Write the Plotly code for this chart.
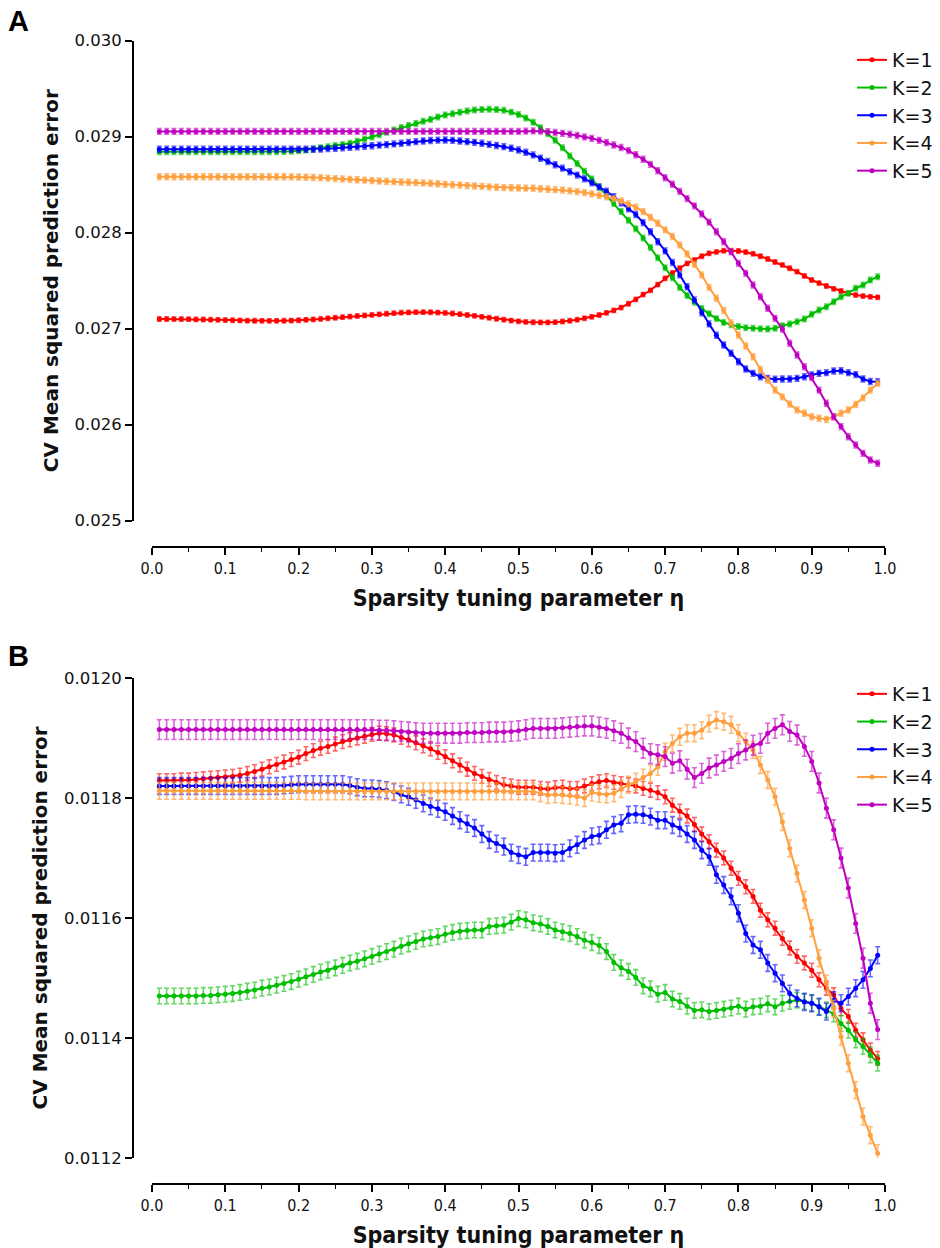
import plotly.graph_objects as go

# ---------------- data ----------------
ETA = [0.01, 0.02, 0.03, 0.04, 0.05, 0.06, 0.07, 0.08, 0.09, 0.10,
       0.11, 0.12, 0.13, 0.14, 0.15, 0.16, 0.17, 0.18, 0.19, 0.20,
       0.21, 0.22, 0.23, 0.24, 0.25, 0.26, 0.27, 0.28, 0.29, 0.30,
       0.31, 0.32, 0.33, 0.34, 0.35, 0.36, 0.37, 0.38, 0.39, 0.40,
       0.41, 0.42, 0.43, 0.44, 0.45, 0.46, 0.47, 0.48, 0.49, 0.50,
       0.51, 0.52, 0.53, 0.54, 0.55, 0.56, 0.57, 0.58, 0.59, 0.60,
       0.61, 0.62, 0.63, 0.64, 0.65, 0.66, 0.67, 0.68, 0.69, 0.70,
       0.71, 0.72, 0.73, 0.74, 0.75, 0.76, 0.77, 0.78, 0.79, 0.80,
       0.81, 0.82, 0.83, 0.84, 0.85, 0.86, 0.87, 0.88, 0.89, 0.90,
       0.91, 0.92, 0.93, 0.94, 0.95, 0.96, 0.97, 0.98, 0.99]

SERIES_NAMES = ["K=1", "K=2", "K=3", "K=4", "K=5"]

# Panel A
A_K1 = [0.027101, 0.027101, 0.027100, 0.027100, 0.027099, 0.027097, 0.027096, 0.027094, 0.027092, 0.027090,
        0.027088, 0.027086, 0.027084, 0.027083, 0.027082, 0.027082, 0.027082, 0.027083, 0.027085, 0.027088,
        0.027092, 0.027097, 0.027102, 0.027108, 0.027114, 0.027120, 0.027126, 0.027132, 0.027138, 0.027144,
        0.027150, 0.027156, 0.027162, 0.027167, 0.027170, 0.027172, 0.027172, 0.027171, 0.027168, 0.027164,
        0.027158, 0.027151, 0.027143, 0.027134, 0.027124, 0.027114, 0.027104, 0.027094, 0.027085, 0.027077,
        0.027071, 0.027067, 0.027065, 0.027065, 0.027068, 0.027075, 0.027083, 0.027094, 0.027108, 0.027124,
        0.027143, 0.027165, 0.027190, 0.027220, 0.027260, 0.027305, 0.027355, 0.027400, 0.027460, 0.027525,
        0.027580, 0.027630, 0.027680, 0.027716, 0.027755, 0.027785, 0.027800, 0.027812, 0.027812, 0.027809,
        0.027798, 0.027780, 0.027755, 0.027726, 0.027695, 0.027664, 0.027630, 0.027594, 0.027550, 0.027507,
        0.027475, 0.027445, 0.027415, 0.027393, 0.027370, 0.027350, 0.027340, 0.027332, 0.027327]
A_K2 = [0.028844, 0.028844, 0.028844, 0.028844, 0.028844, 0.028844, 0.028844, 0.028844, 0.028844, 0.028844,
        0.028844, 0.028844, 0.028844, 0.028844, 0.028844, 0.028844, 0.028844, 0.028845, 0.028848, 0.028853,
        0.028862, 0.028872, 0.028884, 0.028896, 0.028908, 0.028920, 0.028932, 0.028952, 0.028975, 0.028998,
        0.029020, 0.029045, 0.029070, 0.029095, 0.029118, 0.029138, 0.029160, 0.029180, 0.029205, 0.029226,
        0.029240, 0.029254, 0.029267, 0.029277, 0.029283, 0.029285, 0.029284, 0.029275, 0.029256, 0.029232,
        0.029195, 0.029150, 0.029093, 0.029030, 0.028962, 0.028885, 0.028800, 0.028720, 0.028640, 0.028560,
        0.028475, 0.028390, 0.028305, 0.028220, 0.028130, 0.028040, 0.027945, 0.027845, 0.027740, 0.027635,
        0.027530, 0.027430, 0.027345, 0.027275, 0.027210, 0.027155, 0.027105, 0.027065, 0.027040, 0.027022,
        0.027010, 0.027004, 0.027000, 0.026997, 0.027005, 0.027030, 0.027050, 0.027073, 0.027100, 0.027150,
        0.027195, 0.027229, 0.027281, 0.027333, 0.027368, 0.027421, 0.027455, 0.027507, 0.027542]
A_K3 = [0.028869, 0.028869, 0.028869, 0.028869, 0.028869, 0.028869, 0.028869, 0.028869, 0.028869, 0.028869,
        0.028869, 0.028869, 0.028869, 0.028869, 0.028869, 0.028869, 0.028869, 0.028869, 0.028869, 0.028869,
        0.028869, 0.028869, 0.028872, 0.028876, 0.028880, 0.028885, 0.028890, 0.028895, 0.028900, 0.028906,
        0.028912, 0.028918, 0.028925, 0.028932, 0.028940, 0.028948, 0.028955, 0.028960, 0.028964, 0.028966,
        0.028962, 0.028955, 0.028948, 0.028941, 0.028932, 0.028920, 0.028908, 0.028896, 0.028880, 0.028862,
        0.028838, 0.028810, 0.028776, 0.028742, 0.028708, 0.028672, 0.028635, 0.028600, 0.028562, 0.028520,
        0.028478, 0.028432, 0.028375, 0.028310, 0.028250, 0.028190, 0.028105, 0.028010, 0.027906, 0.027810,
        0.027690, 0.027560, 0.027437, 0.027300, 0.027165, 0.027050, 0.026932, 0.026830, 0.026744, 0.026656,
        0.026580, 0.026535, 0.026500, 0.026483, 0.026473, 0.026476, 0.026476, 0.026483, 0.026500, 0.026518,
        0.026535, 0.026542, 0.026559, 0.026562, 0.026542, 0.026522, 0.026476, 0.026450, 0.026448]
A_K4 = [0.028583, 0.028583, 0.028583, 0.028583, 0.028583, 0.028583, 0.028583, 0.028583, 0.028583, 0.028583,
        0.028583, 0.028583, 0.028583, 0.028583, 0.028583, 0.028583, 0.028583, 0.028583, 0.028582, 0.028580,
        0.028578, 0.028575, 0.028572, 0.028568, 0.028564, 0.028560, 0.028556, 0.028551, 0.028547, 0.028543,
        0.028539, 0.028535, 0.028532, 0.028528, 0.028525, 0.028522, 0.028519, 0.028515, 0.028510, 0.028504,
        0.028500, 0.028496, 0.028491, 0.028486, 0.028482, 0.028478, 0.028474, 0.028470, 0.028468, 0.028466,
        0.028464, 0.028463, 0.028458, 0.028453, 0.028448, 0.028444, 0.028436, 0.028428, 0.028418, 0.028405,
        0.028390, 0.028375, 0.028355, 0.028330, 0.028300, 0.028265, 0.028220, 0.028160, 0.028098, 0.028030,
        0.027960, 0.027873, 0.027780, 0.027670, 0.027560, 0.027430, 0.027317, 0.027190, 0.027060, 0.026934,
        0.026820, 0.026708, 0.026575, 0.026466, 0.026361, 0.026290, 0.026215, 0.026153, 0.026119, 0.026083,
        0.026067, 0.026056, 0.026083, 0.026119, 0.026153, 0.026210, 0.026280, 0.026360, 0.026431]
A_K5 = [0.029055, 0.029055, 0.029055, 0.029055, 0.029055, 0.029055, 0.029055, 0.029055, 0.029055, 0.029055,
        0.029055, 0.029055, 0.029055, 0.029055, 0.029055, 0.029055, 0.029055, 0.029055, 0.029055, 0.029055,
        0.029055, 0.029055, 0.029055, 0.029055, 0.029055, 0.029055, 0.029055, 0.029055, 0.029055, 0.029055,
        0.029055, 0.029055, 0.029055, 0.029055, 0.029055, 0.029055, 0.029055, 0.029055, 0.029055, 0.029055,
        0.029055, 0.029055, 0.029055, 0.029055, 0.029055, 0.029055, 0.029055, 0.029055, 0.029055, 0.029055,
        0.029058, 0.029060, 0.029058, 0.029052, 0.029044, 0.029035, 0.029025, 0.029012, 0.028998, 0.028983,
        0.028962, 0.028940, 0.028914, 0.028888, 0.028855, 0.028812, 0.028765, 0.028712, 0.028645, 0.028572,
        0.028505, 0.028430, 0.028355, 0.028280, 0.028195, 0.028110, 0.028010, 0.027906, 0.027800, 0.027681,
        0.027577, 0.027455, 0.027333, 0.027213, 0.027108, 0.026995, 0.026848, 0.026726, 0.026604, 0.026490,
        0.026360, 0.026223, 0.026083, 0.025980, 0.025875, 0.025788, 0.025702, 0.025632, 0.025598]
A_ERR = [0.000022, 0.000028, 0.000030, 0.000030, 0.000030]

# Panel B
B_K1 = [0.011829, 0.011829, 0.011829, 0.011830, 0.011830, 0.011831, 0.011832, 0.011833, 0.011834, 0.011835,
        0.011836, 0.011838, 0.011841, 0.011844, 0.011848, 0.011852, 0.011856, 0.011860, 0.011864, 0.011868,
        0.011874, 0.011879, 0.011883, 0.011886, 0.011890, 0.011894, 0.011897, 0.011900, 0.011903, 0.011906,
        0.011908, 0.011907, 0.011905, 0.011901, 0.011897, 0.011892, 0.011887, 0.011882, 0.011876, 0.011869,
        0.011862, 0.011855, 0.011848, 0.011841, 0.011836, 0.011831, 0.011826, 0.011822, 0.011820, 0.011818,
        0.011818, 0.011818, 0.011816, 0.011815, 0.011817, 0.011818, 0.011816, 0.011816, 0.011820, 0.011824,
        0.011827, 0.011829, 0.011826, 0.011824, 0.011822, 0.011820, 0.011816, 0.011813, 0.011809, 0.011802,
        0.011788, 0.011778, 0.011770, 0.011756, 0.011740, 0.011727, 0.011713, 0.011700, 0.011683, 0.011666,
        0.011652, 0.011636, 0.011613, 0.011597, 0.011583, 0.011566, 0.011550, 0.011536, 0.011525, 0.011513,
        0.011497, 0.011483, 0.011472, 0.011449, 0.011436, 0.011413, 0.011397, 0.011380, 0.011366]
B_K2 = [0.011470, 0.011470, 0.011470, 0.011470, 0.011470, 0.011470, 0.011471, 0.011471, 0.011472, 0.011473,
        0.011474, 0.011476, 0.011478, 0.011480, 0.011483, 0.011485, 0.011488, 0.011491, 0.011494, 0.011498,
        0.011502, 0.011506, 0.011510, 0.011513, 0.011517, 0.011521, 0.011525, 0.011528, 0.011532, 0.011536,
        0.011540, 0.011544, 0.011548, 0.011553, 0.011557, 0.011561, 0.011565, 0.011567, 0.011569, 0.011573,
        0.011576, 0.011578, 0.011579, 0.011580, 0.011580, 0.011586, 0.011587, 0.011588, 0.011593, 0.011599,
        0.011597, 0.011592, 0.011590, 0.011586, 0.011580, 0.011577, 0.011574, 0.011569, 0.011563, 0.011559,
        0.011554, 0.011544, 0.011526, 0.011517, 0.011511, 0.011501, 0.011487, 0.011482, 0.011473, 0.011476,
        0.011465, 0.011461, 0.011453, 0.011446, 0.011447, 0.011444, 0.011446, 0.011448, 0.011450, 0.011453,
        0.011448, 0.011452, 0.011453, 0.011457, 0.011452, 0.011458, 0.011461, 0.011463, 0.011461, 0.011458,
        0.011452, 0.011447, 0.011440, 0.011424, 0.011413, 0.011397, 0.011386, 0.011372, 0.011358]
B_K3 = [0.011820, 0.011820, 0.011820, 0.011820, 0.011820, 0.011820, 0.011820, 0.011820, 0.011820, 0.011820,
        0.011820, 0.011820, 0.011820, 0.011820, 0.011820, 0.011820, 0.011820, 0.011821, 0.011822, 0.011823,
        0.011823, 0.011823, 0.011823, 0.011823, 0.011823, 0.011823, 0.011821, 0.011818, 0.011816, 0.011816,
        0.011815, 0.011813, 0.011810, 0.011806, 0.011802, 0.011797, 0.011791, 0.011786, 0.011782, 0.011777,
        0.011770, 0.011763, 0.011757, 0.011750, 0.011740, 0.011730, 0.011724, 0.011719, 0.011709, 0.011705,
        0.011702, 0.011709, 0.011709, 0.011709, 0.011708, 0.011709, 0.011716, 0.011722, 0.011730, 0.011736,
        0.011738, 0.011747, 0.011755, 0.011758, 0.011772, 0.011773, 0.011772, 0.011769, 0.011763, 0.011763,
        0.011755, 0.011750, 0.011740, 0.011730, 0.011713, 0.011702, 0.011672, 0.011655, 0.011636, 0.011608,
        0.011574, 0.011555, 0.011547, 0.011525, 0.011508, 0.011491, 0.011474, 0.011466, 0.011460, 0.011458,
        0.011452, 0.011444, 0.011463, 0.011458, 0.011469, 0.011483, 0.011497, 0.011516, 0.011538]
B_K4 = [0.011812, 0.011812, 0.011812, 0.011812, 0.011812, 0.011812, 0.011812, 0.011812, 0.011812, 0.011812,
        0.011812, 0.011812, 0.011812, 0.011812, 0.011812, 0.011812, 0.011812, 0.011812, 0.011812, 0.011812,
        0.011811, 0.011811, 0.011811, 0.011811, 0.011811, 0.011811, 0.011811, 0.011811, 0.011811, 0.011811,
        0.011811, 0.011811, 0.011811, 0.011811, 0.011811, 0.011811, 0.011811, 0.011811, 0.011811, 0.011811,
        0.011811, 0.011811, 0.011811, 0.011811, 0.011811, 0.011811, 0.011811, 0.011811, 0.011811, 0.011811,
        0.011811, 0.011811, 0.011808, 0.011805, 0.011806, 0.011805, 0.011804, 0.011802, 0.011800, 0.011809,
        0.011807, 0.011806, 0.011808, 0.011815, 0.011822, 0.011827, 0.011834, 0.011841, 0.011852, 0.011877,
        0.011891, 0.011902, 0.011908, 0.011908, 0.011913, 0.011924, 0.011930, 0.011927, 0.011922, 0.011908,
        0.011894, 0.011880, 0.011855, 0.011830, 0.011802, 0.011760, 0.011716, 0.011674, 0.011630, 0.011583,
        0.011533, 0.011491, 0.011449, 0.011402, 0.011358, 0.011313, 0.011269, 0.011238, 0.011208]
B_K5 = [0.011914, 0.011914, 0.011914, 0.011914, 0.011914, 0.011914, 0.011914, 0.011914, 0.011914, 0.011914,
        0.011914, 0.011914, 0.011914, 0.011914, 0.011914, 0.011914, 0.011914, 0.011914, 0.011914, 0.011914,
        0.011914, 0.011914, 0.011914, 0.011914, 0.011914, 0.011914, 0.011914, 0.011914, 0.011914, 0.011914,
        0.011913, 0.011913, 0.011912, 0.011911, 0.011910, 0.011909, 0.011908, 0.011908, 0.011908, 0.011908,
        0.011908, 0.011908, 0.011909, 0.011909, 0.011909, 0.011910, 0.011910, 0.011910, 0.011911, 0.011912,
        0.011914, 0.011916, 0.011916, 0.011916, 0.011916, 0.011917, 0.011918, 0.011919, 0.011920, 0.011920,
        0.011918, 0.011916, 0.011912, 0.011908, 0.011900, 0.011894, 0.011883, 0.011874, 0.011872, 0.011869,
        0.011858, 0.011862, 0.011848, 0.011834, 0.011841, 0.011850, 0.011855, 0.011861, 0.011866, 0.011874,
        0.011880, 0.011888, 0.011891, 0.011908, 0.011916, 0.011922, 0.011911, 0.011905, 0.011886, 0.011861,
        0.011825, 0.011783, 0.011747, 0.011700, 0.011650, 0.011591, 0.011533, 0.011458, 0.011414]
B_ERR = [0.0000115, 0.0000130, 0.0000140, 0.0000140, 0.0000165]

A_TICKS = [0.025, 0.026, 0.027, 0.028, 0.029, 0.030]
B_TICKS = [0.0112, 0.0114, 0.0116, 0.0118, 0.0120]
X_TICKS = [0.0, 0.1, 0.2, 0.3, 0.4, 0.5, 0.6, 0.7, 0.8, 0.9, 1.0]

# ---------------- style ----------------
COLORS = ["#FF0000", "#00BE00", "#0000FF", "#FFA040", "#C000C0"]
ERR_COLORS = ["rgba(255,0,0,0.6)", "rgba(0,190,0,0.6)", "rgba(0,0,255,0.6)",
              "rgba(255,160,64,0.7)", "rgba(192,0,192,0.6)"]

W, H = 940, 1248
def px(x):
    return x / W
def py(y):
    return 1 - y / H

X_DOM = [px(152), px(885)]
YA_DOM = [py(520.7), py(40.7)]
YB_DOM = [py(1158), py(678)]
Y_POS = px(133)
XA_POS = py(547)
XB_POS = py(1184)

fig = go.Figure()

panelA = [A_K1, A_K2, A_K3, A_K4, A_K5]
panelB = [B_K1, B_K2, B_K3, B_K4, B_K5]

for i, vals in enumerate(panelA):
    fig.add_trace(go.Scatter(
        x=ETA, y=vals, name=SERIES_NAMES[i], mode="lines+markers",
        xaxis="x", yaxis="y", legend="legend",
        line=dict(color=COLORS[i], width=2),
        marker=dict(color=COLORS[i], size=5),
        error_y=dict(type="constant", value=A_ERR[i], color=ERR_COLORS[i],
                     thickness=1.6, width=2.5),
    ))
for i, vals in enumerate(panelB):
    fig.add_trace(go.Scatter(
        x=ETA, y=vals, name=SERIES_NAMES[i], mode="lines+markers",
        xaxis="x2", yaxis="y2", legend="legend2",
        line=dict(color=COLORS[i], width=2),
        marker=dict(color=COLORS[i], size=5),
        error_y=dict(type="constant", value=B_ERR[i], color=ERR_COLORS[i],
                     thickness=1.6, width=2.5),
    ))

TICK_FONT = dict(family="DejaVu Sans", size=16.5, color="#111")
XTICK_FONT = dict(family="DejaVu Sans Condensed, Liberation Sans Narrow, DejaVu Sans", size=16, color="#111")
YTITLE_FONT = dict(family="DejaVu Sans", size=20, color="#111")
XTITLE_FONT = dict(family="DejaVu Sans Condensed, Liberation Sans Narrow, DejaVu Sans", size=23, color="#111")

def xaxis_cfg(pos):
    return dict(
        domain=X_DOM, range=[0, 1], anchor="free", position=pos, automargin=False,
        showline=True, linecolor="black", linewidth=1.8,
        ticks="outside", ticklen=7, tickwidth=1.5, tickcolor="black",
        tickvals=X_TICKS, tickformat=".1f", tickfont=XTICK_FONT,
        minor=dict(ticks="outside", dtick=0.05, ticklen=4, tickwidth=1.2, tickcolor="black"),
        showgrid=False, zeroline=False,
        title=dict(text="<b>Sparsity tuning parameter η</b>", font=XTITLE_FONT, standoff=12),
    )

def yaxis_cfg(dom, rng, ticks, fmt):
    return dict(
        domain=dom, range=rng, anchor="free", position=Y_POS, automargin=False,
        showline=True, linecolor="black", linewidth=1.8,
        ticks="outside", ticklen=7, tickwidth=1.5, tickcolor="black",
        tickvals=ticks, tickformat=fmt, tickfont=TICK_FONT,
        showgrid=False, zeroline=False,
        title=dict(text="<b>CV Mean squared prediction error</b>", font=YTITLE_FONT, standoff=10),
    )

LEG_FONT = dict(family="DejaVu Sans", size=19, color="#111")

fig.update_layout(
    template="none",
    width=W, height=H, margin=dict(l=0, r=0, t=0, b=0, autoexpand=False),
    paper_bgcolor="white", plot_bgcolor="white",
    xaxis=xaxis_cfg(XA_POS),
    yaxis=yaxis_cfg(YA_DOM, [0.025, 0.030], A_TICKS, ".3f"),
    xaxis2=xaxis_cfg(XB_POS),
    yaxis2=yaxis_cfg(YB_DOM, [0.0112, 0.0120], B_TICKS, ".4f"),
    legend=dict(x=px(938), xanchor="right", y=py(41), yanchor="top",
                font=LEG_FONT, bgcolor="rgba(0,0,0,0)", borderwidth=0,
                itemwidth=30, tracegroupgap=0),
    legend2=dict(x=px(938), xanchor="right", y=py(675), yanchor="top",
                 font=LEG_FONT, bgcolor="rgba(0,0,0,0)", borderwidth=0,
                 itemwidth=30, tracegroupgap=0),
    annotations=[
        dict(text="<b>A</b>", x=px(6), y=py(3), xref="paper", yref="paper",
             xanchor="left", yanchor="top", showarrow=False,
             font=dict(family="Liberation Sans", size=29, color="black")),
        dict(text="<b>B</b>", x=px(6), y=py(638), xref="paper", yref="paper",
             xanchor="left", yanchor="top", showarrow=False,
             font=dict(family="Liberation Sans", size=29, color="black")),
    ],
)

fig.write_html("out.html")
